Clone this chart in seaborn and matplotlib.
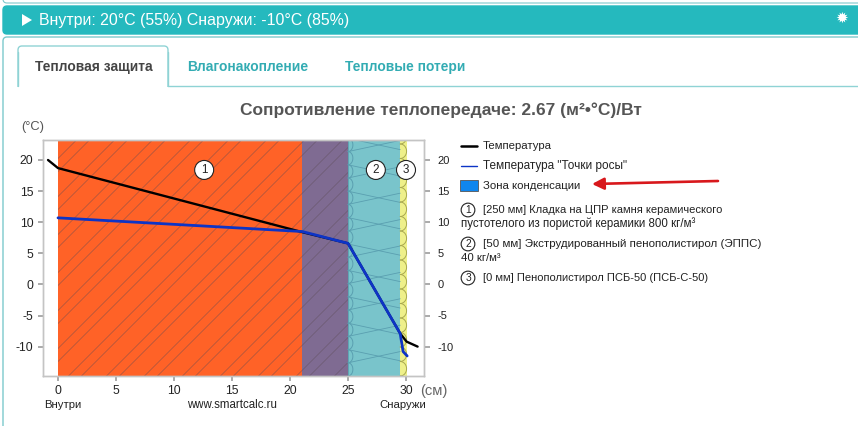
import numpy as np
import pandas as pd
import matplotlib
matplotlib.use("Agg")
import matplotlib.pyplot as plt
import seaborn as sns
from matplotlib.patches import FancyBboxPatch, Rectangle, Polygon, FancyArrowPatch
from matplotlib.lines import Line2D

# ---- data ----
temp_x = [-0.86, 0.0, 21.06, 25.0, 29.5, 30.05, 31.0]
temp_y = [20.0, 18.7, 8.4, 6.6, -7.9, -9.2, -10.0]
dew_x = [0.0, 21.06, 25.0, 29.5, 29.75, 30.1]
dew_y = [10.7, 8.5, 6.6, -7.9, -10.8, -11.5]
layer_edges = [0.0, 21.06, 25.0, 29.5, 30.1]
layer_colors = ["#ff6227", "#7f6b92", "#79c4cb", "#eef08a"]
layer_marks = [(12.6, "1"), (27.4, "2"), (30.0, "3")]
x_ticks = [0, 5, 10, 15, 20, 25, 30]
y_ticks = [-10, -5, 0, 5, 10, 15, 20]
title = "Сопротивление теплопередаче: 2.67 (м²•°C)/Вт"
header = "Внутри: 20°C (55%) Снаружи: -10°C (85%)"
tabs = ["Тепловая защита", "Влагонакопление", "Тепловые потери"]
legend_lines = ["Температура", "Температура \"Точки росы\"", "Зона конденсации"]

W, H = 858, 426
sns.set_theme(style="white")
plt.rcParams["font.family"] = ["Liberation Sans", "DejaVu Sans"]
plt.rcParams["axes.unicode_minus"] = False
fig = plt.figure(figsize=(W / 100, H / 100), dpi=100)
PXT = matplotlib.transforms.Affine2D().scale(1 / W, 1 / H) + fig.transFigure

def fx(x): return x / W
def fy(y): return 1 - y / H

def label(x, y, s, size=8, color="#222222", weight="normal", ha="left", **kw):
    return fig.text(fx(x), fy(y), s, fontsize=size, color=color, fontweight=weight,
                    ha=ha, va="center", **kw)

# ---- page chrome ----
TEAL = "#25b9be"
def box(x0, y0, x1, y1, fc, ec, r=4, lw=1.0, z=0):
    p = FancyBboxPatch((x0, H - y1), x1 - x0, y1 - y0,
                       boxstyle=f"round,pad=0,rounding_size={r}",
                       transform=PXT, fc=fc, ec=ec, lw=lw, zorder=z, clip_on=False)
    fig.add_artist(p)
    return p

box(3, -12, 880, 3, "white", "#7cc9cc", lw=0.8)
box(3, 6, 880, 34, TEAL, TEAL)
box(3, 37, 880, 450, "white", "#7cc9cc", lw=1.0)
fig.add_artist(Line2D([fx(168), fx(858)], [fy(86), fy(86)], color="#8fd3d5", lw=1.0))
box(18, 46, 168, 100, "white", "#8fd3d5", lw=1.0, z=1)
fig.add_artist(Rectangle((fx(15), fy(125)), fx(160), fy(87) - fy(125), fc="white", ec="none", zorder=1.5))
fig.add_artist(Line2D([fx(18), fx(18)], [fy(52), fy(86)], color="#8fd3d5", lw=1.0, zorder=2))
fig.add_artist(Line2D([fx(168), fx(168)], [fy(52), fy(86)], color="#8fd3d5", lw=1.0, zorder=2))

fig.add_artist(Polygon([(22, H - 14), (22, H - 26), (32, H - 20)], closed=True, fc="white", ec="none", transform=PXT))
label(39, 20.5, header, size=11.45, color="white")
label(842, 18, "✹", size=11, color="white", ha="center", family=["DejaVu Sans"])

label(93.5, 67, tabs[0], size=9.9, color="#444444", weight="bold", ha="center", zorder=3)
label(248, 67, tabs[1], size=10.0, color="#33acb3", weight="bold", ha="center")
label(405, 67, tabs[2], size=9.9, color="#33acb3", weight="bold", ha="center")
label(440.5, 110, title, size=12.5, color="#555555", weight="bold", ha="center")
label(21, 127, "(°C)", size=9.3, color="#555555")
label(420, 391, "(см)", size=10.6, color="#666666")
label(63, 405, "Внутри", size=8.2, color="#222222", ha="center")
label(232, 405, "www.smartcalc.ru", size=8.3, color="#222222", ha="center")
label(403, 405, "Снаружи", size=8.2, color="#222222", ha="center")

# ---- chart ----
ax_l, ax_r, ax_t, ax_b = 42.5, 423.5, 140.5, 376.0
ax = fig.add_axes([fx(ax_l), fy(ax_b), (ax_r - ax_l) / W, (ax_b - ax_t) / H], zorder=5)
ax.patch.set_alpha(0)
PX_X = 11.6
PX_Y = 6.22
ax.set_xlim((ax_l - 58) / PX_X, (ax_r - 58) / PX_X)
ax.set_ylim(20 - (ax_b - 160) / PX_Y, 20 + (160 - ax_t) / PX_Y)
y0, y1 = ax.get_ylim()

for i, c in enumerate(layer_colors):
    ax.axvspan(layer_edges[i], layer_edges[i + 1], color=c, lw=0, zorder=1)

# brick hatch, pairs of diagonal lines, clipped to the first two layers
clip = Rectangle((layer_edges[0], y0), layer_edges[2] - layer_edges[0], y1 - y0, transform=ax.transData)
dx_full = (y1 - y0) * PX_Y / PX_X
for start in np.arange(-dx_full - 5, 27, 38 / PX_X):
    for off in (0.0, 13 / PX_X):
        l, = ax.plot([start + off, start + off + dx_full], [y0, y1],
                     color="#5c4a55", lw=0.5, alpha=0.55, zorder=2)
        l.set_clip_path(clip)

# insulation pattern: arcs on the left, scallops in the foil strip, criss-cross lines
ins0, ins1 = layer_edges[2], layer_edges[3]
clip2 = Rectangle((ins0 - 0.05, y0), layer_edges[4] + 0.5 - ins0, y1 - y0, transform=ax.transData)
step = 13.2 / PX_Y
step_r = 14.5 / PX_Y
th = np.linspace(-np.pi / 2, np.pi / 2, 24)
art = []
for k, n in enumerate(np.arange(y0 - step, y1 + step, step)):
    art += ax.plot(ins0 + 0.42 * np.cos(th) * 1.0, n + step / 2 + step / 2 * np.sin(th),
                   color="#5a9fb0", lw=0.7, zorder=2)
    target = n + (0.85 if k % 2 == 0 else -0.85) * step
    art += ax.plot([ins0, ins1], [n, target], color="#5a9fb0", lw=0.6, zorder=2)
for n in np.arange(y0 - step_r, y1 + step_r, step_r):
    art += ax.plot(ins1 + 0.55 * np.cos(th), n + step_r / 2 + step_r / 2 * np.sin(th),
                   color="#a9a950", lw=0.7, zorder=2)
for a in art:
    a.set_clip_path(clip2)
ax.axvline(ins0, color="#5a9fb0", lw=0.6, zorder=2)

df_t = pd.DataFrame({"x": temp_x, "y": temp_y})
df_d = pd.DataFrame({"x": dew_x, "y": dew_y})
sns.lineplot(data=df_t, x="x", y="y", ax=ax, color="#000000", lw=1.7, sort=False, zorder=4, estimator=None)
sns.lineplot(data=df_d, x="x", y="y", ax=ax, color="#0d34c6", lw=2.0, sort=False, zorder=5, estimator=None)

for xv, s in layer_marks:
    ax.text(xv, 18.4, s, fontsize=8.4, color="#222222", ha="center", va="center", zorder=7,
            bbox=dict(boxstyle="circle,pad=0.3", fc="white", ec="#222222", lw=0.8))

ax.set_xlabel("")
ax.set_ylabel("")
ax.set_xticks(x_ticks)
ax.set_yticks(y_ticks)
ax.tick_params(axis="both", length=3.5, width=1.4, color="#aaaaaa", labelsize=8.7,
               labelcolor="#222222", pad=3, bottom=True, left=True)
for s in ax.spines.values():
    s.set_color("#c4c4c4")
    s.set_linewidth(1.0)
ax2 = ax.twinx()
ax2.set_ylim(ax.get_ylim())
ax2.set_yticks(y_ticks)
ax2.grid(False)
ax2.tick_params(axis="y", right=True, length=4, width=1.4, color="#aaaaaa", labelsize=8.0,
                labelcolor="#222222", pad=6)
for s in ax2.spines.values():
    s.set_color("#c4c4c4")
    s.set_linewidth(1.0)
ax2.patch.set_alpha(0)

# ---- legend ----
fig.add_artist(Line2D([fx(461), fx(477)], [fy(146), fy(146)], color="black", lw=1.8))
fig.add_artist(Line2D([fx(461), fx(477)], [fy(165.5), fy(165.5)], color="#0d34c6", lw=1.0))
fig.add_artist(Rectangle((fx(460), fy(191)), 18 / W, 11 / H, fc="#0f86ee", ec="#555555", lw=0.6))
label(483, 146, legend_lines[0], size=8.2, color="#222222")
label(483, 166, legend_lines[1], size=8.5, color="#222222")
label(483, 186, legend_lines[2], size=8.2, color="#222222")

def num(y, s):
    fig.text(fx(468), fy(y), s, fontsize=7.4, ha="center", va="center", color="#222222",
             bbox=dict(boxstyle="circle,pad=0.18", fc="white", ec="#222222", lw=0.8))
num(210, "1"); num(244, "2"); num(278, "3")
label(483, 210, "[250 мм] Кладка на ЦПР камня керамического", size=8.05, color="#222222")
label(461, 224, "пустотелого из пористой керамики 800 кг/м³", size=8.3, color="#222222")
label(483, 244, "[50 мм] Экструдированный пенополистирол (ЭППС)", size=8.25, color="#222222")
label(461, 258, "40 кг/м³", size=8.2, color="#222222")
label(483, 278, "[0 мм] Пенополистирол ПСБ-50 (ПСБ-С-50)", size=8.0, color="#222222")

# ---- red arrow ----
fig.add_artist(FancyArrowPatch(
    (fx(718), fy(181)), (fx(592), fy(184)), transform=fig.transFigure,
    arrowstyle="-|>,head_length=7,head_width=3.5", color="#d8181c", lw=1.9, zorder=10,
    shrinkA=0, shrinkB=0))

fig.savefig("out.png", dpi=100)
